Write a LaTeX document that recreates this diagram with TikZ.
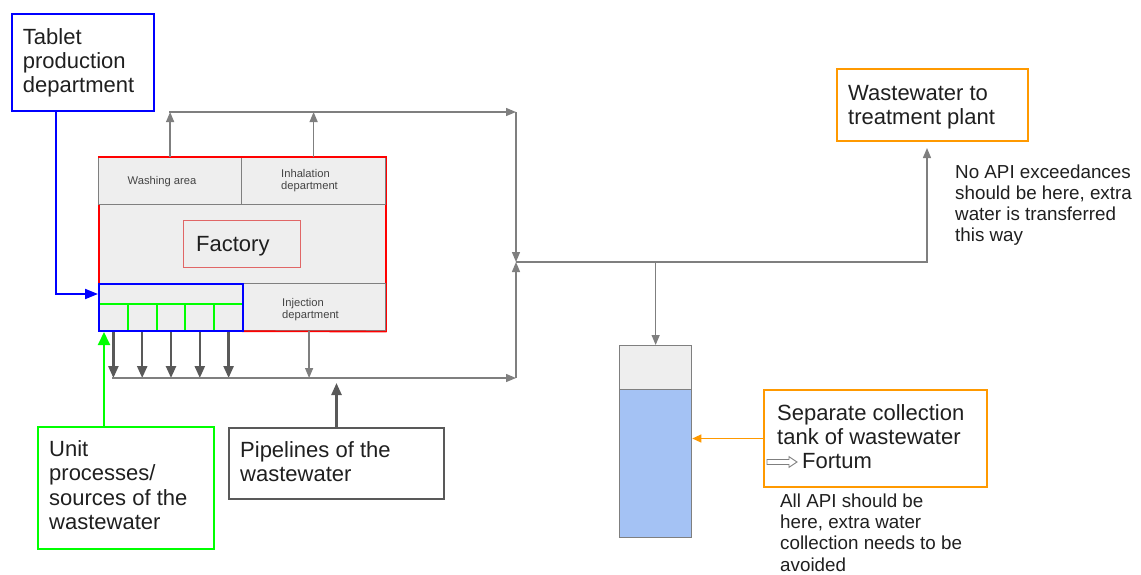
\documentclass[tikz,border=0pt]{standalone}
\usepackage{fontspec}
\setmainfont{Liberation Sans}
\usetikzlibrary{arrows.meta,calc}

\definecolor{txt}{HTML}{1F1F1F}
\definecolor{smalltxt}{HTML}{444444}
\definecolor{blueC}{HTML}{0000FF}
\definecolor{greenC}{HTML}{00FF00}
\definecolor{redC}{HTML}{FF0000}
\definecolor{softred}{HTML}{E06666}
\definecolor{orangeC}{HTML}{FF9900}
\definecolor{pipe}{HTML}{7F7F7F}
\definecolor{darkpipe}{HTML}{595959}
\definecolor{wall}{HTML}{EEEEEE}
\definecolor{water}{HTML}{A4C2F4}

% multi-line text nodes sit on the baseline of their last line
\tikzset{
  frame/.style={rectangle, inner sep=0pt, anchor=north west},
  bigtxt/.style={inner sep=0pt, anchor=base west, align=left, text=txt,
    font=\fontsize{22}{24.3}\selectfont},
  notetxt/.style={inner sep=0pt, anchor=base west, align=left, text=txt,
    font=\fontsize{18.8}{21.2}\selectfont},
  smalltxt/.style={inner sep=0pt, anchor=base west, align=left, text=smalltxt,
    font=\fontsize{11.2}{11.8}\selectfont},
  cellbox/.style={frame, draw=pipe, line width=1.2pt, fill=wall},
  thinarr/.style={draw=pipe, line width=1.3pt, -{Triangle[length=10pt,width=8pt]}},
  thickarr/.style={draw=darkpipe, line width=2.4pt, -{Triangle[length=12pt,width=10pt]}},
  bluearr/.style={draw=blueC, line width=2pt, -{Triangle[length=13pt,width=10pt]}},
  greenarr/.style={draw=greenC, line width=2pt, -{Triangle[length=13pt,width=12pt]}},
  orangearr/.style={draw=orangeC, line width=1.3pt, -{Triangle[length=9pt,width=8pt]}},
}

\begin{document}
\begin{tikzpicture}[x=1pt,y=-1pt]
\useasboundingbox (0,0) rectangle (1141,574);

% ---------- factory block ----------
\node[frame, draw=redC, fill=wall, line width=1.6pt,
      minimum width=287pt, minimum height=173pt] (factory) at (98,157) {};
\node[cellbox, minimum width=143pt, minimum height=47pt] (wash) at (98,157) {};
\node[cellbox, minimum width=144pt, minimum height=47pt] (inhal) at (241,157) {};
\node[cellbox, minimum width=143pt, minimum height=47pt] (inj) at (242,283) {};
\draw[draw=redC, line width=1.6pt] (factory.north west) -- (factory.north east);
\draw[draw=redC, line width=1.6pt] (inj.south west) -- (factory.south east);

\node[smalltxt] (washtxt) at (127.5,184.3) {Washing area};
\node[smalltxt] (inhaltxt) at (281,189.5) {Inhalation\\department};
\node[smalltxt] (injtxt) at (282,318.5) {Injection\\department};

\node[frame, draw=softred, line width=1.3pt,
      minimum width=117pt, minimum height=47pt] (factlabel) at (183,220) {};
\node[bigtxt] (facttxt) at (196,251) {Factory};

% tablet production unit with its five process cells
\foreach \i in {1,...,5} {
  \node[frame, draw=greenC, line width=2pt,
        minimum width=28.8pt, minimum height=27pt] (cell\i) at ({98+28.8*(\i-1)},303) {};
}
\node[frame, draw=blueC, line width=2pt,
      minimum width=144pt, minimum height=47pt] (srcbox) at (98,283) {};

% ---------- outer boxes ----------
\node[frame, draw=blueC, line width=2pt,
      minimum width=142pt, minimum height=97pt] (tablet) at (11,13) {};
\node[bigtxt] (tablettxt) at (22.7,92.6) {Tablet\\production\\department};

\node[frame, draw=greenC, line width=2pt,
      minimum width=176pt, minimum height=122pt] (unit) at (37,426) {};
\node[bigtxt, font=\fontsize{22}{24.5}\selectfont] (unittxt) at (49,529.5)
  {Unit\\processes/\\sources of the\\wastewater};

\node[frame, draw=darkpipe, line width=2pt,
      minimum width=215pt, minimum height=71pt] (pipes) at (228,427) {};
\node[bigtxt] (pipestxt) at (240,481.3) {Pipelines of the\\wastewater};

\node[frame, draw=orangeC, line width=2pt,
      minimum width=191pt, minimum height=72pt] (treat) at (836,68) {};
\node[bigtxt] (treattxt) at (848,124.3) {Wastewater to\\treatment plant};

\node[notetxt] (treatnote) at (955,241.6)
  {No API exceedances\\should be here, extra\\water is transferred\\this way};

\node[frame, draw=orangeC, line width=2pt,
      minimum width=223pt, minimum height=97pt] (sep) at (763,389) {};
\node[bigtxt] (septxt) at (777,444.3) {Separate collection\\tank of wastewater};
% hollow arrow before "Fortum"
\coordinate (fwd) at (767,462);
\draw[draw=pipe, fill=white, line width=0.9pt, line join=miter]
  (fwd) ++(0,-2.5) -- ++(22,0) -- ++(0,-2.8) -- ++(8,5.3)
  -- ++(-8,5.3) -- ++(0,-2.8) -- ++(-22,0) -- cycle;
\node[bigtxt] (fortum) at (802,468) {Fortum};

\node[notetxt] (sepnote) at (780,571)
  {All API should be\\here, extra water\\collection needs to be\\avoided};

% ---------- collection tank ----------
\node[frame, draw=pipe, fill=water, line width=1.3pt,
      minimum width=72pt, minimum height=192pt] (tank) at (619,345) {};
\node[frame, draw=pipe, fill=wall, line width=1.3pt,
      minimum width=72pt, minimum height=44pt] (tanktop) at (619,345) {};

% ---------- pipe network ----------
\coordinate (busL) at (112,378);
\coordinate (busR) at (516,378);
\coordinate (topL) at (169,112);
\coordinate (topR) at (516,112);
\coordinate (junc) at (516,262);

\draw[bluearr] ($(tablet.south west)+(45,0)$) |- ($(srcbox.north west)+(0,11)$);
\draw[greenarr] ($(unit.north west)+(67,0)$) coordinate (g0) -- (g0 |- srcbox.south);

\foreach \i in {1,...,5} {
  \draw[thickarr] (cell\i.south) -- (cell\i.south |- busL);
}
\draw[thinarr] ($(inj.south)+(-5,0)$) coordinate (i0) -- (i0 |- busL);
\draw[thinarr] (busL) -- (busR);
\draw[thickarr] (pipes.north) -- ++(0,-44);

\draw[thinarr] (wash.north) -- (wash.north |- topL);
\draw[thinarr] (inhal.north) -- (inhal.north |- topL);
\draw[thinarr] (topL) -- (topR);
\draw[thinarr] (topR) -- (junc);
\draw[thinarr] (busR) -- (junc);

\draw[thinarr, shorten >=6pt] (junc) -| ($(treat.south west)+(91,0)$);
\draw[thinarr] (tank.north |- junc) -- (tank.north);
\draw[orangearr] (sep.west) -- (sep.west -| tank.east);

\end{tikzpicture}
\end{document}
